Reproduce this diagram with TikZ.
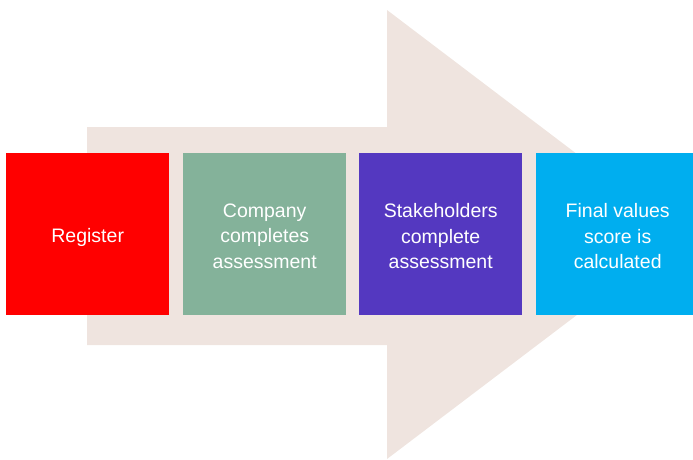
\documentclass[tikz,border=0pt]{standalone}
\usepackage{fontspec}
\setmainfont{Liberation Sans}
\definecolor{arrowc}{HTML}{EFE4DF}
\definecolor{c1}{HTML}{FF0000}
\definecolor{c2}{HTML}{84B29A}
\definecolor{c3}{HTML}{5438C0}
\definecolor{c4}{HTML}{00AEEF}
\begin{document}
\begin{tikzpicture}[x=1pt,y=-1pt,
  stepbox/.style={anchor=north west,minimum width=163pt,minimum height=162pt,inner sep=0pt},
  steptext/.style={text=white,font=\fontsize{19.5}{25.5}\selectfont,align=center,inner sep=0pt}]
\useasboundingbox (0,0) rectangle (693,459);
\fill[arrowc] (87,127) -- (387,127) -- (387,10) -- (683,234.5) -- (387,459) -- (387,345) -- (87,345) -- cycle;
\node[stepbox,fill=c1] (s1) at (6,153) {};
\node[stepbox,fill=c2] (s2) at (183,153) {};
\node[stepbox,fill=c3] (s3) at (359,153) {};
\node[stepbox,fill=c4,minimum width=157pt] (s4) at (536,153) {};
\node[steptext] (t1) at ([yshift=-3pt]s1.center) {Register};
\node[steptext] (t2) at ([yshift=-2pt]s2.center) {Company\\completes\\assessment};
\node[steptext] (t3) at ([yshift=-2pt]s3.center) {Stakeholders\\complete\\assessment};
\node[steptext] (t4) at ([xshift=3pt,yshift=-2pt]s4.center) {Final values\\score is\\calculated};
\end{tikzpicture}
\end{document}
